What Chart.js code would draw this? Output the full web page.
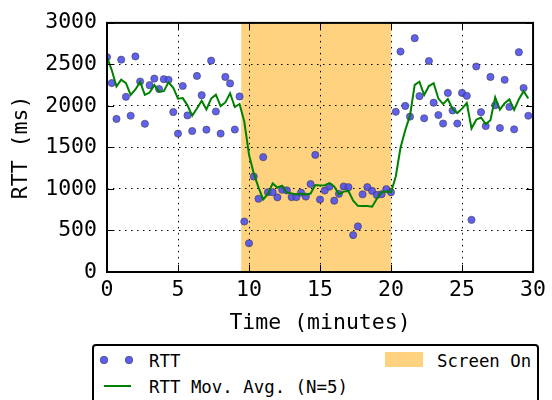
<!DOCTYPE html>
<html>
<head>
<meta charset="utf-8">
<script src="https://cdn.jsdelivr.net/npm/chart.js@4.4.1/dist/chart.umd.min.js"></script>
<style>
  body { margin: 0; background: #fff; }
  #wrap { position: relative; width: 552px; height: 400px; overflow: hidden; }
  #legend {
    position: absolute; left: 92px; top: 344px; width: 443px; height: 62px;
    border: 2px solid #000; border-radius: 4px; background: #fff;
    font-family: "DejaVu Sans Mono", monospace; font-size: 17.4px; color: #000;
  }
  .item { position: absolute; white-space: nowrap; line-height: 20px; }
  .dot {
    position: absolute; width: 6px; height: 6px; border-radius: 50%;
    background: rgba(75, 75, 238, 0.9); border: 1px solid rgba(70, 70, 90, 0.6);
  }
</style>
</head>
<body>
<div id="wrap">
  <canvas id="grafica"></canvas>
  <div id="legend">
    <span class="dot" style="left:6px; top:10px"></span>
    <span class="dot" style="left:31px; top:10px"></span>
    <span class="item" style="left:55px; top:5px">RTT</span>
    <span class="item" style="left:291px; top:6px; width:38px; height:15px; background:#ffd280"></span>
    <span class="item" style="left:343px; top:5px">Screen On</span>
    <span class="item" style="left:10px; top:39px; width:27px; height:2px; background:#008000"></span>
    <span class="item" style="left:55px; top:31px">RTT Mov. Avg. (N=5)</span>
  </div>
</div>
<script>
// sample times (seconds) and RTT
const sampleSec = [
  0, 20, 40, 60, 80, 100, 120, 140, 160, 180,
  200, 220, 240, 260, 280, 300, 320, 340, 360, 380,
  400, 420, 440, 460, 480, 500, 520, 540, 560, 580,
  600, 620, 640, 660, 680, 700, 720, 740, 760, 780,
  800, 820, 840, 860, 880, 900, 920, 940, 960, 980,
  1000, 1020, 1040, 1060, 1080, 1100, 1120, 1140, 1160, 1180,
  1200, 1220, 1240, 1260, 1280, 1300, 1320, 1340, 1360, 1380,
  1400, 1420, 1440, 1460, 1480, 1500, 1520, 1540, 1560, 1580,
  1600, 1620, 1640, 1660, 1680, 1700, 1720, 1740, 1760, 1780
]
const rtt = [
  2588, 2275, 1843, 2557, 2110, 1882, 2596, 2294, 1785, 2250,
  2329, 2204, 2322, 2314, 1926, 1667, 2240, 1886, 1698, 2361,
  2129, 1714, 2545, 1933, 1667, 2349, 2271, 1716, 2114, 608,
  346, 1150, 882, 1383, 961, 961, 899, 990, 983, 902,
  902, 955, 908, 1059, 1410, 873, 981, 1028, 859, 941,
  1030, 1022, 445, 549, 935, 1022, 977, 928, 937, 998,
  960, 1929, 2655, 2000, 1871, 2816, 2118, 1851, 2541, 2039,
  1890, 1788, 2157, 1945, 1788, 2157, 2122, 628, 2475, 1925,
  1757, 2349, 2008, 1734, 2314, 1988, 1718, 2647, 2216, 1882
]
const rttMovAvg = [
  2588, 2432, 2235, 2316, 2275, 2133, 2198, 2288, 2133, 2161,
  2251, 2172, 2178, 2284, 2219, 2087, 2094, 2007, 1883, 1970,
  2063, 1958, 2089, 2136, 1998, 2042, 2153, 1987, 2023, 1812,
  1411, 1187, 1020, 874, 944, 1067, 1017, 1039, 959, 947,
  935, 946, 930, 945, 1047, 1041, 1046, 1070, 1030, 936,
  968, 976, 859, 797, 796, 795, 786, 882, 960, 972,
  960, 1150, 1496, 1708, 1883, 2254, 2292, 2131, 2239, 2273,
  2088, 2022, 2083, 1964, 1914, 1967, 2034, 1728, 1834, 1861,
  1781, 1827, 2103, 1955, 2032, 2079, 1952, 2080, 2177, 2090
]
const screenOn = [9.45, 20]   // minutes
const xTicks = [0, 5, 10, 15, 20, 25, 30]
const yTicks = [0, 500, 1000, 1500, 2000, 2500, 3000]

const mono = "'DejaVu Sans Mono', monospace"

const puntos = sampleSec.map((s, i) => ({ x: s / 60, y: rtt[i] }))
const media = sampleSec.map((s, i) => ({ x: s / 60, y: rttMovAvg[i] }))

// shaded span under the grid, box frame and inward ticks on top
const marco = {
  id: "marco",
  beforeDraw(chart) {
    const { ctx, chartArea: a, scales: { x } } = chart
    const x0 = x.getPixelForValue(screenOn[0])
    const x1 = x.getPixelForValue(screenOn[1])
    ctx.save()
    ctx.fillStyle = "#ffd280"
    ctx.fillRect(x0, a.top, x1 - x0, a.bottom - a.top)
    ctx.restore()
  },
  afterDraw(chart) {
    const { ctx, chartArea: a, scales: { x, y } } = chart
    ctx.save()
    ctx.strokeStyle = "#000"
    ctx.lineWidth = 1
    ctx.beginPath()
    xTicks.forEach(v => {
      const p = Math.round(x.getPixelForValue(v)) + 0.5
      ctx.moveTo(p, a.bottom); ctx.lineTo(p, a.bottom - 7)
      ctx.moveTo(p, a.top); ctx.lineTo(p, a.top + 7)
    })
    yTicks.forEach(v => {
      const p = Math.round(y.getPixelForValue(v)) + 0.5
      ctx.moveTo(a.left, p); ctx.lineTo(a.left + 7, p)
      ctx.moveTo(a.right, p); ctx.lineTo(a.right - 7, p)
    })
    ctx.stroke()
    ctx.lineWidth = 2
    ctx.strokeRect(a.left, a.top, a.right - a.left, a.bottom - a.top)
    ctx.restore()
  }
}

const ctx = document.getElementById("grafica").getContext("2d")

new Chart(ctx, {
  type: "scatter",
  data: {
    datasets: [
      {
        label: "RTT Mov. Avg. (N=5)",
        type: "line",
        data: media,
        borderColor: "#008000",
        borderWidth: 2,
        pointRadius: 0,
        tension: 0,
        fill: false,
        order: 1
      },
      {
        label: "RTT",
        data: puntos,
        pointRadius: 3.6,
        backgroundColor: "rgba(75, 75, 238, 0.88)",
        borderColor: "rgba(60, 60, 80, 0.6)",
        borderWidth: 1,
        order: 2
      }
    ]
  },
  options: {
    responsive: true,
    maintainAspectRatio: false,
    animation: false,
    layout: { padding: { left: 0, top: 18, right: 14, bottom: 58 } },
    plugins: { legend: { display: false }, tooltip: { enabled: false } },
    scales: {
      x: {
        type: "linear",
        min: 0,
        max: 30,
        afterFit: s => { s.height = 70 },
        afterBuildTicks: s => { s.ticks = xTicks.map(v => ({ value: v })) },
        grid: { color: "#000", lineWidth: 1, drawTicks: false },
        border: { display: false, dash: [1.5, 4.5] },
        ticks: {
          color: "#000", padding: 6, font: { family: mono, size: 21.5 },
          callback: v => String(v)
        },
        title: {
          display: true,
          text: "Time (minutes)",
          color: "#000",
          padding: { top: 0, bottom: 6 },
          font: { family: mono, size: 21.5 }
        }
      },
      y: {
        min: 0,
        max: 3000,
        afterFit: s => { s.width = 107 },
        afterBuildTicks: s => { s.ticks = yTicks.map(v => ({ value: v })) },
        grid: { color: "#000", lineWidth: 1, drawTicks: false },
        border: { display: false, dash: [1.5, 4.5] },
        ticks: {
          color: "#000", padding: 10, font: { family: mono, size: 21.5 },
          callback: v => String(v)
        },
        title: {
          display: true,
          text: "RTT (ms)",
          color: "#000",
          padding: { top: 9, bottom: 0 },
          font: { family: mono, size: 21.5 }
        }
      }
    }
  },
  plugins: [marco]
})
</script>
</body>
</html>
